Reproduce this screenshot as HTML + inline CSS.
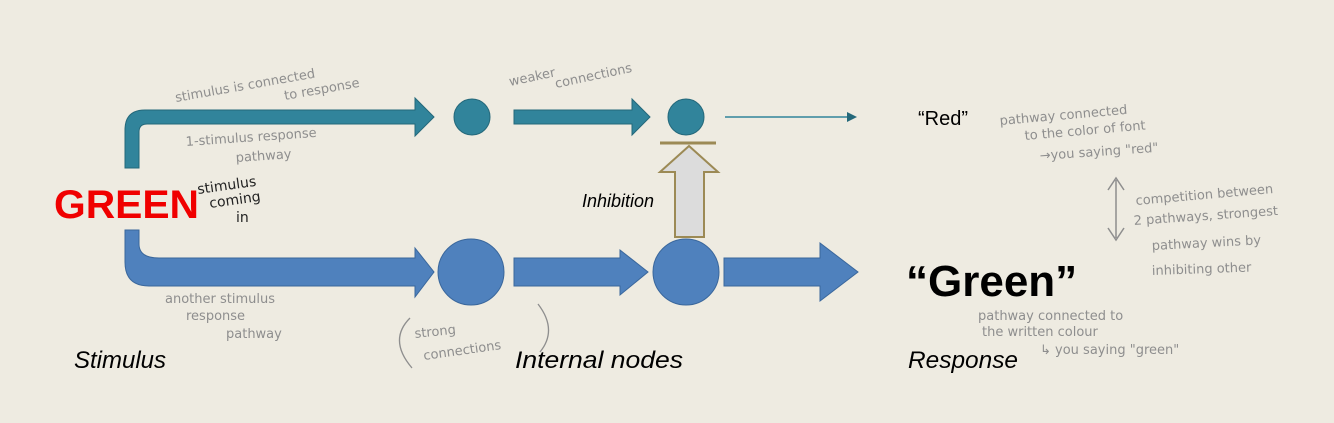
<!DOCTYPE html>
<html><head><meta charset="utf-8"><style>
html,body{margin:0;padding:0;background:#eeebe1;}
svg{display:block}
.h{font-family:"DejaVu Sans",sans-serif;fill:#8e8e8e;font-size:13px;}
.it{font-family:"Liberation Sans",sans-serif;font-style:italic;fill:#000;}
</style></head><body>
<svg width="1334" height="423" viewBox="0 0 1334 423" xmlns="http://www.w3.org/2000/svg">
<rect width="1334" height="423" fill="#eeebe1"/>
<path d="M125,168 V130 Q125,110 145,110 H415 V98 L434,117 L415,136 V124 H147 Q139,124 139,132 V168 Z" fill="#31849b" stroke="#24687a" stroke-width="1"/>
<circle cx="472" cy="117" r="18" fill="#31849b" stroke="#24687a"/>
<path d="M514,110 H632 V99 L650,117 L632,135 V124 H514 Z" fill="#31849b" stroke="#24687a"/>
<circle cx="686" cy="117" r="18" fill="#31849b" stroke="#24687a"/>
<line x1="725" y1="117" x2="848" y2="117" stroke="#31849b" stroke-width="1.5"/>
<path d="M847,112 L857,117 L847,122 Z" fill="#24687a"/>
<line x1="660" y1="143" x2="716" y2="143" stroke="#9c8a55" stroke-width="3"/>
<path d="M675,237 V172 H660 L689,146 L718,172 H704 V237 Z" fill="#dcdcdc" stroke="#9c8a55" stroke-width="2"/>
<text class="it" x="582" y="207" font-size="18">Inhibition</text>
<path d="M125,230 V262 Q125,286 149,286 H415 V297 L434,272 L415,248 V258 H159 Q139,258 139,244 V230 Z" fill="#4f81bd" stroke="#3a679c"/>
<circle cx="471" cy="272" r="33" fill="#4f81bd" stroke="#3a679c"/>
<path d="M514,258 H620 V250 L648,272 L620,295 V286 H514 Z" fill="#4f81bd" stroke="#3a679c"/>
<circle cx="686" cy="272" r="33" fill="#4f81bd" stroke="#3a679c"/>
<path d="M724,258 H820 V243 L858,272 L820,301 V286 H724 Z" fill="#4f81bd" stroke="#3a679c"/>
<text x="54" y="218" font-family="Liberation Sans,sans-serif" font-weight="bold" font-size="40" fill="#f00000" textLength="145" lengthAdjust="spacingAndGlyphs">GREEN</text>
<text class="it" x="74" y="368" font-size="24">Stimulus</text>
<text class="it" x="515" y="368" font-size="24" textLength="168" lengthAdjust="spacingAndGlyphs">Internal nodes</text>
<text class="it" x="908" y="368" font-size="24" textLength="110" lengthAdjust="spacingAndGlyphs">Response</text>
<text x="918" y="125" font-family="Liberation Sans,sans-serif" font-size="20" fill="#000">“Red”</text>
<text x="906" y="296" font-family="Liberation Sans,sans-serif" font-weight="bold" font-size="44" fill="#000">“Green”</text>
<g font-family="DejaVu Sans,sans-serif" fill="#222" font-size="14">
<text x="198" y="194" transform="rotate(-8 198 194)">stimulus</text>
<text x="210" y="208" transform="rotate(-8 210 208)">coming</text>
<text x="236" y="222">in</text>
</g>
<text class="h" x="176" y="102" transform="rotate(-10 176 102)">stimulus is connected</text>
<text class="h" x="285" y="100" transform="rotate(-10 285 100)">to response</text>
<text class="h" x="186" y="146" transform="rotate(-4 186 146)">1-stimulus response</text>
<text class="h" x="236" y="162" transform="rotate(-4 236 162)">pathway</text>
<text class="h" x="510" y="86" transform="rotate(-12 510 86)">weaker</text>
<text class="h" x="556" y="88" transform="rotate(-12 556 88)">connections</text>
<text class="h" x="165" y="303">another stimulus</text>
<text class="h" x="186" y="320">response</text>
<text class="h" x="226" y="338">pathway</text>
<text class="h" x="415" y="338" transform="rotate(-6 415 338)">strong</text>
<text class="h" x="424" y="360" transform="rotate(-8 424 360)">connections</text>
<path d="M410,318 Q388,340 412,368 M538,304 Q558,330 540,352" stroke="#8e8e8e" fill="none" stroke-width="1.3"/>
<text class="h" x="1000" y="125" font-size="14" transform="rotate(-5 1000 125)">pathway connected</text>
<text class="h" x="1025" y="140" font-size="14" transform="rotate(-5 1025 140)">to the color of font</text>
<text class="h" x="1040" y="160" font-size="13" transform="rotate(-4 1040 160)">→you saying "red"</text>
<path d="M1116,180 V238 M1108,190 L1116,178 L1124,190 M1108,228 L1116,240 L1124,228" stroke="#8e8e8e" fill="none" stroke-width="1.5"/>
<text class="h" x="1136" y="205" font-size="14" transform="rotate(-5 1136 205)">competition between</text>
<text class="h" x="1134" y="225" font-size="14" transform="rotate(-4 1134 225)">2 pathways, strongest</text>
<text class="h" x="1152" y="250" font-size="14" transform="rotate(-3 1152 250)">pathway wins by</text>
<text class="h" x="1152" y="275" font-size="14" transform="rotate(-2 1152 275)">inhibiting other</text>
<text class="h" x="978" y="320" font-size="11">pathway connected to</text>
<text class="h" x="982" y="336" font-size="11">the written colour</text>
<text class="h" x="1040" y="354" font-size="10">↳ you saying "green"</text>
</svg>
</body></html>
